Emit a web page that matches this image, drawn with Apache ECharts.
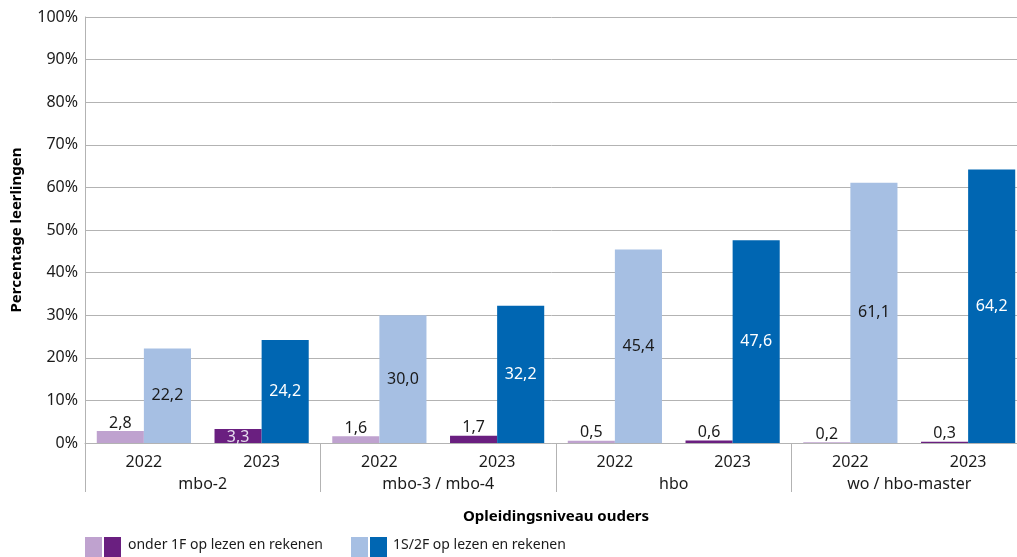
<!DOCTYPE html>
<html>
<head>
<meta charset="utf-8">
<script src="https://cdn.jsdelivr.net/npm/echarts@6/dist/echarts.min.js"></script>
<style>
  html, body { margin: 0; padding: 0; background: #fff; }
  #main { width: 1017px; height: 557px; }
</style>
</head>
<body>
<div id="main"></div>
<script>
var years = ['2022', '2023', '2022', '2023', '2022', '2023', '2022', '2023'];
var groups = ['mbo-2', 'mbo-3 / mbo-4', 'hbo', 'wo / hbo-master'];
var onder1F = [2.8, 3.3, 1.6, 1.7, 0.5, 0.6, 0.2, 0.3];
var boven1S2F = [22.2, 24.2, 30.0, 32.2, 45.4, 47.6, 61.1, 64.2];
var seriesNames = ['onder 1F op lezen en rekenen', '1S/2F op lezen en rekenen'];

var purple = ['#bfa2cf', '#6a1f80'];
var blue = ['#a6bfe3', '#0066b2'];
var font = 'Noto Sans';

function fmt(v) { return v.toFixed(1).replace('.', ','); }

var myChart = echarts.init(document.getElementById('main'));

var option = {
    textStyle: { fontFamily: font },
    grid: { left: 85, right: -10, top: 17, bottom: 114, outerBoundsMode: 'none', containLabel: false },
    xAxis: [
        {
            type: 'category',
            data: years,
            axisLine: { lineStyle: { color: '#b3b3b3', width: 1 } },
            axisTick: { show: false },
            axisLabel: { color: '#1a1a1a', fontSize: 16, margin: 11, fontFamily: font },
            name: 'Opleidingsniveau ouders',
            nameLocation: 'middle',
            nameGap: 66,
            nameTextStyle: { color: '#000', fontSize: 15, fontWeight: 'bold', fontFamily: font }
        },
        {
            type: 'category',
            data: groups,
            position: 'bottom',
            axisLine: { show: false },
            axisTick: { show: true, length: 49, interval: 0, lineStyle: { color: '#b3b3b3' } },
            axisLabel: { color: '#1a1a1a', fontSize: 16, margin: 33, interval: 0, fontFamily: font }
        }
    ],
    yAxis: {
        type: 'value',
        min: 0,
        max: 100,
        interval: 10,
        axisLine: { show: true, lineStyle: { color: '#b3b3b3' } },
        axisTick: { show: false },
        splitLine: { lineStyle: { color: '#b3b3b3', width: 1 } },
        axisLabel: { formatter: '{value}%', color: '#1a1a1a', fontSize: 16, margin: 7, fontFamily: font },
        name: 'Percentage leerlingen',
        nameLocation: 'middle',
        nameGap: 61,
        nameTextStyle: { color: '#000', fontSize: 15, fontWeight: 'bold', fontFamily: font }
    },
    series: [
        {
            name: seriesNames[0],
            type: 'bar',
            xAxisIndex: 0,
            barWidth: '40%',
            barGap: '0%',
            data: onder1F.map(function (v, i) {
                var item = { value: v, itemStyle: { color: purple[i % 2] } };
                // in the original the 3,3 label sits on the bar itself
                if (i === 1) item.label = { position: 'insideBottom', distance: -2, color: '#e6dcee' };
                return item;
            }),
            label: {
                show: true,
                position: 'top',
                distance: 0,
                color: '#1a1a1a',
                fontSize: 16,
                fontFamily: font,
                formatter: function (p) { return fmt(p.value); }
            }
        },
        {
            name: seriesNames[1],
            type: 'bar',
            xAxisIndex: 0,
            barWidth: '40%',
            barGap: '0%',
            data: boven1S2F.map(function (v, i) {
                return {
                    value: v,
                    itemStyle: { color: blue[i % 2] },
                    label: { color: i % 2 ? '#ffffff' : '#1a1a1a' }
                };
            }),
            label: {
                show: true,
                position: 'inside',
                fontSize: 16,
                fontFamily: font,
                formatter: function (p) { return fmt(p.value); }
            }
        }
    ],
    graphic: [
        { type: 'rect', left: 85, top: 537, shape: { width: 17, height: 20 }, style: { fill: purple[0] } },
        { type: 'rect', left: 104, top: 537, shape: { width: 17, height: 20 }, style: { fill: purple[1] } },
        { type: 'text', left: 128, top: 538, style: { text: seriesNames[0], font: '14px "Noto Sans"', fill: '#1a1a1a' } },
        { type: 'rect', left: 351, top: 537, shape: { width: 17, height: 20 }, style: { fill: blue[0] } },
        { type: 'rect', left: 370, top: 537, shape: { width: 17, height: 20 }, style: { fill: blue[1] } },
        { type: 'text', left: 393, top: 538, style: { text: seriesNames[1], font: '14px "Noto Sans"', fill: '#1a1a1a' } }
    ]
};

myChart.setOption(option);
</script>
</body>
</html>
